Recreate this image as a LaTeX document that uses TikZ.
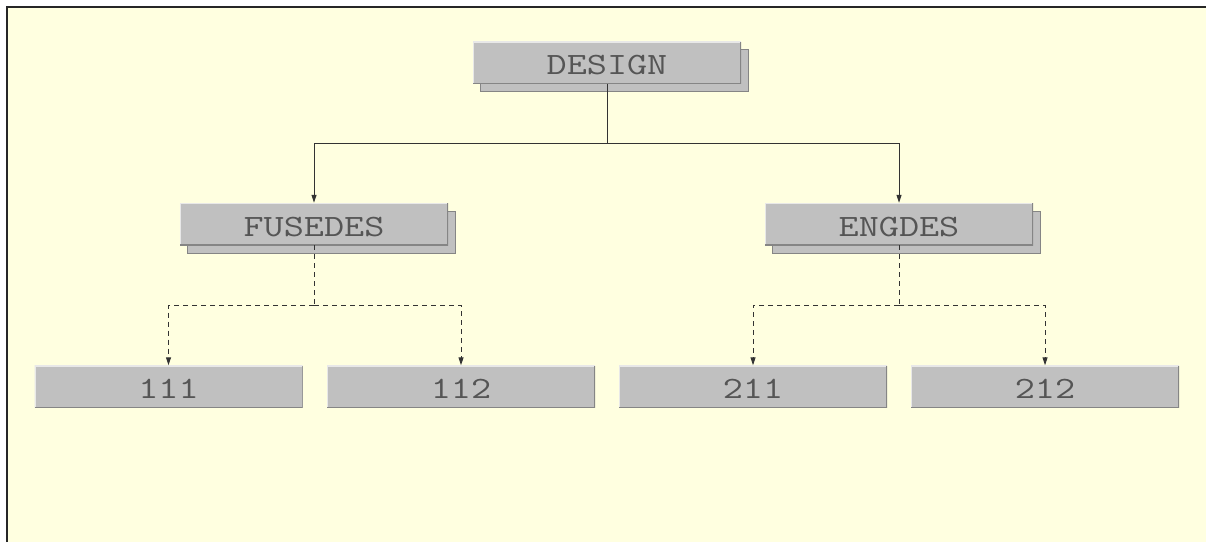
\documentclass[tikz,border=0pt]{standalone}
\usepackage{fontspec}
\newfontfamily\courfont[FakeStretch=1.26]{Latin Modern Mono}
\usetikzlibrary{arrows.meta,shadows}
\definecolor{bg}{HTML}{FFFFE0}
\definecolor{boxgray}{HTML}{C0C0C0}
\definecolor{edgedark}{HTML}{858585}
\definecolor{edgelight}{HTML}{E8E8E8}
\definecolor{txtgray}{HTML}{555555}
\definecolor{linecol}{HTML}{333333}
\tikzset{
  basebox/.style={fill=boxgray, inner sep=0pt, minimum width=268pt, minimum height=42pt,
    text height=33pt, text depth=9pt, font=\courfont\fontsize{31}{31}\selectfont, text=txtgray,
    path picture={
      \draw[edgelight, line width=2pt] (path picture bounding box.south west) -- (path picture bounding box.north west) -- (path picture bounding box.north east);
      \draw[edgedark, line width=2pt] (path picture bounding box.north east) -- (path picture bounding box.south east) -- (path picture bounding box.south west);
    }},
  shadowbox/.style={basebox, copy shadow={shadow xshift=7pt, shadow yshift=-8pt, fill=boxgray, draw=edgedark, line width=1pt}},
  leafbox/.style={basebox},
  conn/.style={draw=linecol, line width=1pt},
  dconn/.style={draw=linecol, line width=1pt, dash pattern=on 5pt off 4pt},
  tip/.style={-{Triangle[length=8pt,width=5pt]}}
}
\begin{document}
\begin{tikzpicture}[x=1pt,y=-1pt]
\useasboundingbox (0,0) rectangle (1206,542);
\fill[white] (0,0) rectangle (1206,542);
\fill[bg] (7,7) rectangle (1206,542);
\draw[line width=2pt, black!85] (7,542) -- (7,7) -- (1206,7);

\node[shadowbox] (design) at (607,62.5) {DESIGN};
\node[shadowbox] (fusedes) at (314,224) {FUSEDES};
\node[shadowbox] (engdes) at (899,224) {ENGDES};
\node[leafbox] (n111) at (168.5,386.5) {111};
\node[leafbox] (n112) at (461,386.5) {112};
\node[leafbox] (n211) at (753,386.5) {211};
\node[leafbox] (n212) at (1045,386.5) {212};

\coordinate (j1) at (607,143);
\coordinate (j2) at (314,305);
\coordinate (j3) at (899,305);

\draw[conn] (design.south) -- (j1);
\draw[conn,tip] (j1) -| (fusedes.north);
\draw[conn,tip] (j1) -| (engdes.north);

\draw[dconn] (fusedes.south) -- (j2);
\draw[dconn,tip] (j2) -| (n111.north);
\draw[dconn,tip] (j2) -| (n112.north);

\draw[dconn] (engdes.south) -- (j3);
\draw[dconn,tip] (j3) -| (n211.north);
\draw[dconn,tip] (j3) -| (n212.north);
\end{tikzpicture}
\end{document}
